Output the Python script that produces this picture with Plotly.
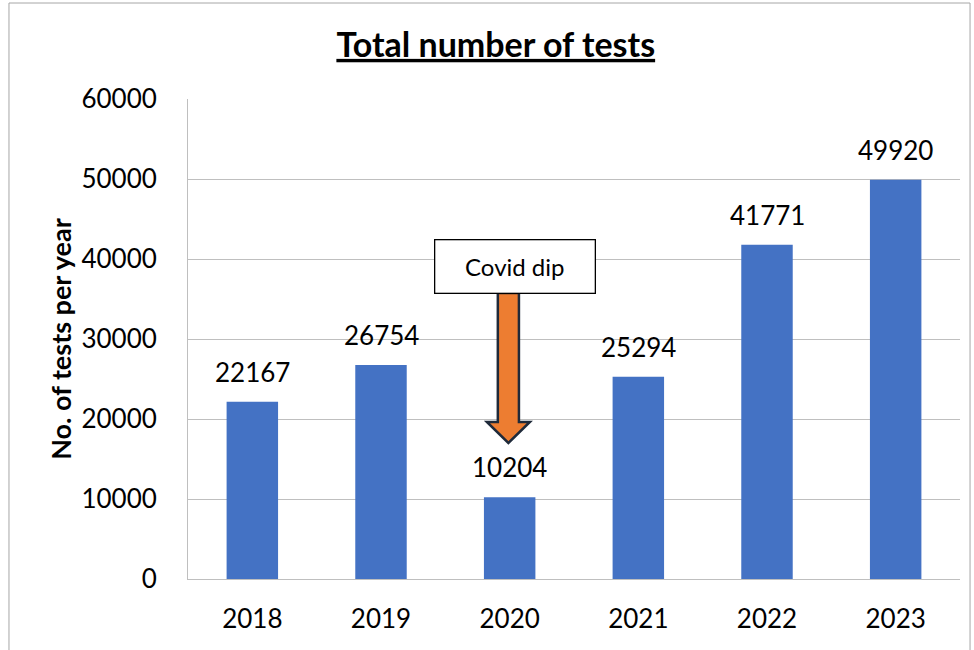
import plotly.graph_objects as go

years = ["2018", "2019", "2020", "2021", "2022", "2023"]
tests = [22167, 26754, 10204, 25294, 41771, 49920]
y_ticks = [0, 10000, 20000, 30000, 40000, 50000, 60000]

FONT = "Lato, Carlito, Calibri, sans-serif"

fig = go.Figure()
fig.add_trace(go.Bar(
    x=list(range(len(years))), y=tests,
    marker=dict(color="#4472C4", line=dict(width=0)),
    width=0.4,
    hoverinfo="x+y",
))

# data labels above bars
for i, v in enumerate(tests):
    fig.add_annotation(x=i, y=v, xref="x", yref="y", text=str(v), showarrow=False,
                       yanchor="bottom", yshift=12,
                       font=dict(size=26, color="black", family=FONT))

# Block arrow (Covid dip), data coords: category index 2, values
cx = 1.99
shaft = 0.082
head = 0.167
y_top, y_neck, y_tip = 35750, 19625, 17000
path = (f"M {cx-shaft},{y_top} L {cx+shaft},{y_top} L {cx+shaft},{y_neck} "
        f"L {cx+head},{y_neck} L {cx},{y_tip} L {cx-head},{y_neck} "
        f"L {cx-shaft},{y_neck} Z")
fig.add_shape(type="path", path=path, xref="x", yref="y",
              fillcolor="#ED7D31", line=dict(color="#1F2A3A", width=2.5), layer="above")

fig.add_annotation(x=2.04, y=39060, xref="x", yref="y", text="Covid dip",
                   showarrow=False, font=dict(size=24, color="black", family=FONT),
                   bgcolor="white", bordercolor="black", borderwidth=1.3,
                   width=157, height=50)

# y-axis title
fig.add_annotation(x=-0.166, y=0.5, xref="paper", yref="paper",
                   text="<b>No. of tests per year</b>", textangle=-90, showarrow=False,
                   xanchor="center", yanchor="middle",
                   font=dict(size=27, color="black", family=FONT))

# outer frame
fig.add_shape(type="rect", xref="paper", yref="paper", x0=-0.2319, x1=1.0130, y0=-0.2, y1=1.2,
              line=dict(color="#A6A6A6", width=1), fillcolor="rgba(0,0,0,0)", layer="below")

fig.update_layout(
    width=974, height=650,
    margin=dict(l=188, r=14, t=99, b=71),
    paper_bgcolor="white", plot_bgcolor="white",
    showlegend=False,
    title=dict(text="<b>Total number of tests</b>", x=0.509, xanchor="center",
               y=0.9308, yanchor="middle", xref="container", yref="container",
               font=dict(size=34, color="black", family=FONT, lineposition="under")),
    xaxis=dict(tickmode="array", tickvals=list(range(len(years))), ticktext=years,
               range=[-0.5, 5.5], showgrid=False, showline=True, linecolor="#BFBFBF",
               linewidth=1, ticks="", tickfont=dict(size=26, color="black", family=FONT),
               ticklabelstandoff=17),
    yaxis=dict(range=[0, 60000], tickmode="array", tickvals=y_ticks,
               ticktext=[str(v) for v in y_ticks],
               showgrid=True, gridcolor="#BFBFBF", gridwidth=1,
               showline=True, linecolor="#BFBFBF", linewidth=1,
               zeroline=False, ticks="", tickfont=dict(size=26, color="black", family=FONT),
               ticklabelstandoff=25),
)

fig.write_html("out.html", config={"displayModeBar": False},
               post_script="document.body.style.margin='0';")
